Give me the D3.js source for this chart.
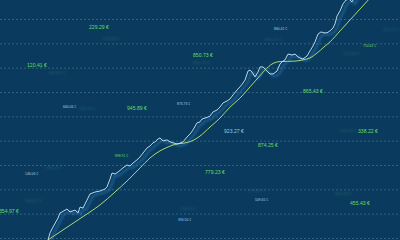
<!DOCTYPE html>
<html><head><meta charset="utf-8">
<script src="https://cdn.jsdelivr.net/npm/d3@7"></script>
<style>html,body{margin:0;padding:0;background:#0a3b5e;overflow:hidden}</style>
</head><body>
<script>
// ---- data (x: time units 0..100, y: value units 0..90) ----
const priceT = [12,12.5,13.25,14.5,15,15.5,16.75,17.5,18.75,19.5,20,20.75,21.75,22.5,23.75,25,26.25,26.75,27.5,28,28.75,29.5,30.75,31.75,32.5,33.25,34.25,35,35.75,36.75,37.5,38.25,38.75,39.5,40,40.75,41.75,42.5,43.5,44.25,45,45.75,46.75,47.5,48.25,49.25,50,50.5,51.25,52,52.5,53.25,54.25,55,55.75,56.75,57.5,58.25,59.25,60,60.75,61.25,62,62.5,63,63.75,64.5,65,65.75,66.75,67.5,68.25,69.25,70,70.75,71.25,72,73,73.75,74.5,75,75.75,76.75,77.5,78.25,78.75,79.5,80.25,81,81.75,82.5,83.25,83.75,84.25,85,85.75,86.5,87.25,88,88.75];
const priceV = [-0.8,2.1,4.5,8.2,10.3,10.7,11.9,10.7,11.5,10.3,12.7,12.3,15.6,18.1,18.9,19.3,20.1,21.0,24.2,26.7,26.3,27.1,28.8,30.0,29.6,30.8,32.1,33.3,34.9,37.0,37.8,39.1,39.5,40.7,41.1,39.9,40.3,39.5,39.0,38.6,39.0,39.5,41.5,42.7,44.4,47.3,47.7,48.9,49.3,49.7,50.1,51.8,52.6,53.8,55.5,56.3,57.1,58.8,60.8,62.1,63.7,64.9,68.6,69.0,68.2,66.2,68.2,70.3,70.3,68.6,67.4,67.4,68.6,71.5,72.7,73.2,75.6,75.2,75.6,74.4,74.0,73.6,74.8,76.9,78.9,80.6,83.8,84.7,84.3,84.3,85.1,86.3,88.0,91.2,93.3,96.2,97.8,98.2,97.0,99.1];

const trendT = [12,15,18.75,22.5,25,28.75,32,35,37.5,40,42,44,46,48,50,52.5,55,57.5,60,62.5,64.5,66.25,68,70,73.75,75.75,77.5,79.25,81,82.5,85,87.5,90,92.5];
const trendV = [-0.8,2.5,6.6,10.7,13.6,18.9,23.8,28.8,32.9,35.8,37.4,38.6,39.0,39.9,41.9,45.6,49.3,53.8,57.5,62.1,65.8,69.0,71.5,72.5,72.7,73.2,74.0,76.0,78.5,80.6,85.1,89.6,94.1,98.6];

const gridValues = [0,10,20,30,40,50,60,70,80,90];

const labelText = ["229.29 €","120.41 €","850.73 €","945.89 €","865.43 €","338.22 €","874.25 €","779.23 €","354.97 €","455.43 €","923.27 €",
                   "660.06 €","873.73 €","860.41 €","710.65 €","146.06 €","390.50 €","509.65 €","898.91 €"];
const labelT = [22.25,6.75,48.25,31.75,75.75,89.5,64.5,51.25,-0.25,87.5,56, 15.75,44.25,68.5,90.75,6.25,44.5,63.75,28.75];
const labelV = [86.7,71.1,75.2,53.4,60.4,44.0,38.2,27.1,11.1,14.4,44.0, 53.8,55.1,85.9,78.9,26.3,7.4,15.6,33.7];
const labelKind = ["g","g","g","g","g","g","g","g","g","g","b", "sb","sb","sb","sg","sb","sb","sb","sg"];

const ghostText = ["229.29 €","120.41 €","660.06 €","860.41 €","710.65 €","146.06 €","354.97 €","390.50 €","338.22 €","509.65 €","455.43 €","850.73 €","923.27 €"];
const ghostT = [25.75,12,19.75,66.25,85.75,11.25,6.25,45,85,62,83.75,48.25,95.75];
const ghostV = [82.2,68.2,53.4,81.4,76.0,28.8,15.6,12.3,44.4,19.7,18.5,72.3,85.5];
const ghostKind = ["g","g","b","b","g","b","g","b","g","b","g","g","b"];

// ---- drawing ----
const W = 400, H = 240;
const svg = d3.select("body").append("svg").attr("width", W).attr("height", H);
svg.append("rect").attr("width", W).attr("height", H).attr("fill", "#0a3b5e");

const defs = svg.append("defs");
defs.append("filter").attr("id","blur").attr("x","-20%").attr("y","-20%").attr("width","140%").attr("height","140%")
  .append("feGaussianBlur").attr("stdDeviation", 1.2);
defs.append("filter").attr("id","blurT").attr("x","-30%").attr("y","-150%").attr("width","160%").attr("height","400%")
  .append("feGaussianBlur").attr("stdDeviation", 1.0);

const x = d3.scaleLinear().domain([0, 100]).range([0, W]);
const y = d3.scaleLinear().domain([0, 90]).range([238, 19]);

// gridlines via axis
const gridAxis = d3.axisLeft(y).tickValues(gridValues).tickSize(-W).tickFormat("");
const gg = svg.append("g").call(gridAxis);
gg.select(".domain").remove();
gg.selectAll(".tick line").attr("stroke", "#8fb3c9").attr("stroke-opacity", 0.4)
  .attr("stroke-dasharray", "2,2").attr("stroke-width", 0.8);

// ghost labels
const colors = {g:"#66dc5e", b:"#8cc6ee", sg:"#66dc5e", sb:"#9fd0f2"};
svg.append("g").selectAll("text").data(ghostText).join("text")
  .attr("x", (d,i) => x(ghostT[i])).attr("y", (d,i) => y(ghostV[i]))
  .attr("dy", "0.35em")
  .attr("font-family", "Liberation Sans, Arial, sans-serif")
  .attr("font-size", 4.4)
  .attr("font-weight", "bold")
  .attr("fill", (d,i) => ghostKind[i] === "g" ? "#3f9a6a" : "#3a7fb8")
  .attr("opacity", 0.3)
  .attr("filter", "url(#blurT)")
  .text(d => d);

// labels
svg.append("g").selectAll("text").data(labelText).join("text")
  .attr("x", (d,i) => x(labelT[i])).attr("y", (d,i) => y(labelV[i]))
  .attr("dy", "0.35em")
  .attr("font-family", "Liberation Sans, Arial, sans-serif")
  .attr("font-size", (d,i) => labelKind[i].startsWith("s") ? 3.4 : 5.1)
  .attr("fill", (d,i) => colors[labelKind[i]])
  .text(d => d);

const priceData = priceT.map((t,i) => [t, priceV[i]]);
const trendData = trendT.map((t,i) => [t, trendV[i]]);

const line = d3.line().x(d => x(d[0])).y(d => y(d[1]));
const smooth = d3.line().x(d => x(d[0])).y(d => y(d[1])).curve(d3.curveMonotoneX);

// glow shadow of price line
svg.append("path").datum(priceData).attr("d", line)
  .attr("fill", "none").attr("stroke", "#2f86cc").attr("stroke-width", 2)
  .attr("stroke-opacity", 0.5).attr("transform", "translate(3,2)")
  .attr("filter", "url(#blur)");

// trend line
svg.append("path").datum(trendData).attr("d", smooth)
  .attr("fill", "none").attr("stroke", "#a9d774").attr("stroke-width", 1);

// price line
svg.append("path").datum(priceData).attr("d", line)
  .attr("fill", "none").attr("stroke", "#cfe8f5").attr("stroke-width", 0.9)
  .attr("stroke-linejoin", "round");
</script>
</body></html>
